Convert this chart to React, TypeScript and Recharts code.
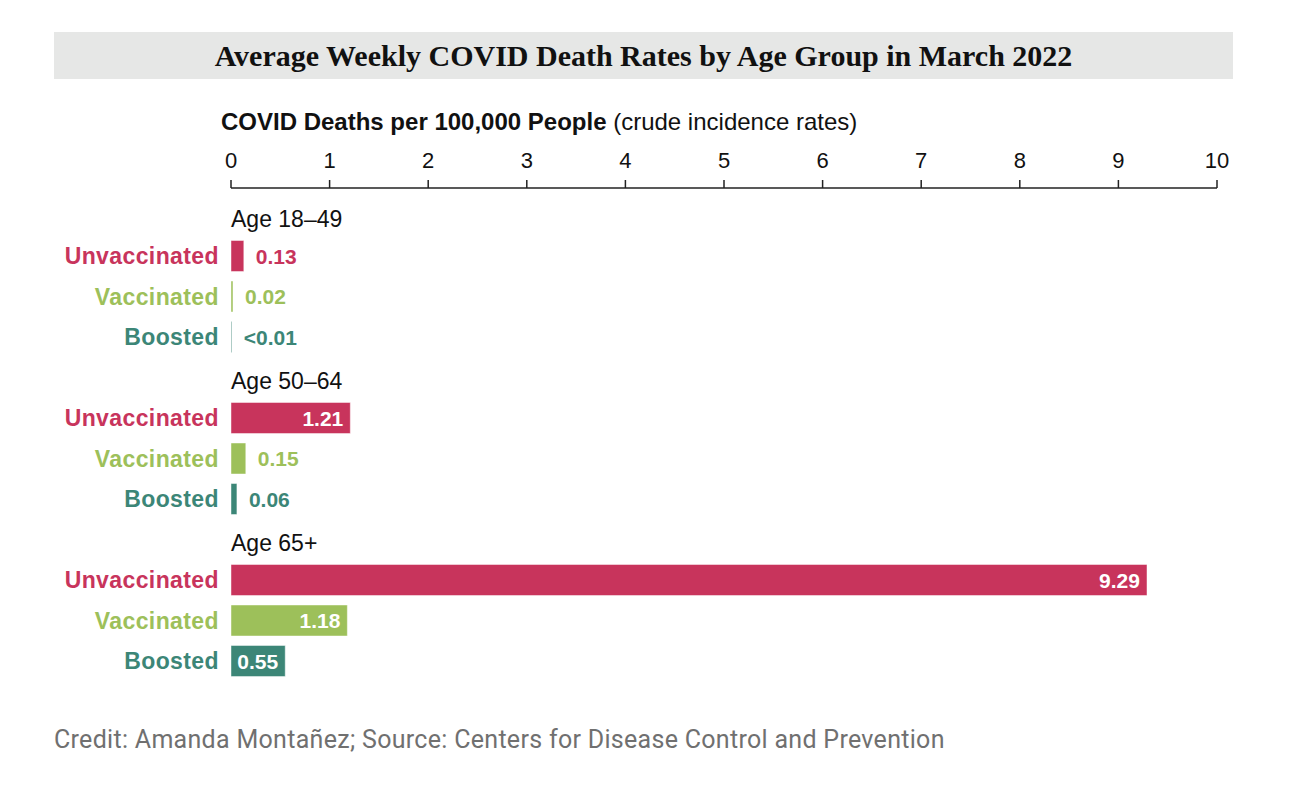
import { BarChart, Bar, XAxis, YAxis, Cell, LabelList } from "recharts"

const ageGroups = ["Age 18–49", "Age 50–64", "Age 65+"]
const statuses = ["Unvaccinated", "Vaccinated", "Boosted"]
const statusColors = ["#c8345c", "#9dc05a", "#3c8677"]

// deaths per 100,000, one list per age group (unvacc, vacc, boosted)
const rates1849 = [0.13, 0.02, 0.008]
const rates5064 = [1.21, 0.15, 0.06]
const rates65 = [9.29, 1.18, 0.55]
const labels1849 = ["0.13", "0.02", "<0.01"]
const labels5064 = ["1.21", "0.15", "0.06"]
const labels65 = ["9.29", "1.18", "0.55"]

const xTicks = [0, 1, 2, 3, 4, 5, 6, 7, 8, 9, 10]

const groupRates = [rates1849, rates5064, rates65]
const groupLabels = [labels1849, labels5064, labels65]

interface Row {
  key: string
  name: string
  header: boolean
  value: number | null
  label: string
  color: string
}

const rows: Row[] = []
ageGroups.forEach((g, gi) => {
  rows.push({ key: `h${gi}`, name: g, header: true, value: null, label: "", color: "#000" })
  statuses.forEach((s, si) => {
    rows.push({
      key: `r${gi}-${si}`,
      name: s,
      header: false,
      value: groupRates[gi][si],
      label: groupLabels[gi][si],
      color: statusColors[si],
    })
  })
})

const SANS = "'Liberation Sans', Arial, Helvetica, sans-serif"
const INSIDE_MIN = 0.4

function RowTick(props: any) {
  const { x, y, payload } = props
  const row = rows.find((r) => r.key === payload.value)
  if (!row) return null
  if (row.header) {
    return (
      <text x={x + 12} y={y + 12} fontFamily={SANS} fontSize={23} fill="#111" textAnchor="start">
        {row.name}
      </text>
    )
  }
  return (
    <text
      x={x}
      y={y}
      dy="0.36em"
      fontFamily={SANS}
      fontSize={23}
      fontWeight="bold"
      letterSpacing={0.4}
      fill={row.color}
      textAnchor="end"
    >
      {row.name}
    </text>
  )
}

function ValueLabel(props: any) {
  const { x, y, width, height, value } = props
  const row = rows.find((r) => r.key === value)
  if (!row || row.header || row.value == null) return null
  const inside = row.value >= INSIDE_MIN
  return (
    <text
      x={inside ? x + width - 7 : x + width + 12}
      y={y + height / 2}
      dy="0.36em"
      fontFamily={SANS}
      fontSize={21}
      fontWeight="bold"
      fill={inside ? "#fff" : row.color}
      textAnchor={inside ? "end" : "start"}
    >
      {row.label}
    </text>
  )
}

export default function App() {
  return (
    <div style={{ position: "relative", width: 1276, height: 786, background: "#fff" }}>
      <div
        style={{
          position: "absolute",
          left: 46,
          top: 24,
          width: 1179,
          height: 47,
          background: "#e6e7e6",
          display: "flex",
          alignItems: "center",
          justifyContent: "center",
          fontFamily: "'Liberation Serif', 'DejaVu Serif', serif",
          fontWeight: "bold",
          fontSize: 30,
          color: "#111",
        }}
      >
        Average Weekly COVID Death Rates by Age Group in March 2022
      </div>
      <div
        style={{
          position: "absolute",
          left: 213,
          top: 100,
          fontFamily: SANS,
          fontSize: 24,
          color: "#111",
          whiteSpace: "nowrap",
        }}
      >
        <b>COVID Deaths per 100,000 People</b> (crude incidence rates)
      </div>
      <div style={{ position: "absolute", left: 0, top: 0 }}>
        <BarChart
          width={1276}
          height={786}
          data={rows}
          layout="vertical"
          margin={{ top: 140, right: 67, bottom: 113, left: 0 }}
          barSize={31}
        >
          <XAxis
            type="number"
            orientation="top"
            domain={[0, 10]}
            ticks={xTicks}
            height={40}
            axisLine={{ stroke: "#222", strokeWidth: 1.5 }}
            tickLine={{ stroke: "#222", strokeWidth: 1.5 }}
            tickSize={8}
            tickMargin={12}
            tick={{ fontFamily: SANS, fontSize: 22, fill: "#111" }}
          />
          <YAxis
            type="category"
            dataKey="key"
            width={223}
            axisLine={false}
            tickLine={false}
            tickSize={0}
            tickMargin={12}
            interval={0}
            padding={{ top: 7, bottom: 0 }}
            tick={<RowTick />}
          />
          <Bar dataKey="value" isAnimationActive={false}>
            {rows.map((r) => (
              <Cell key={r.key} fill={r.color} stroke="rgba(255,255,255,0.45)" strokeWidth={1} />
            ))}
            <LabelList dataKey="key" content={<ValueLabel />} />
          </Bar>
        </BarChart>
      </div>
      <div
        style={{
          position: "absolute",
          left: 46,
          top: 717,
          fontFamily: "Roboto, 'Noto Sans', sans-serif",
          fontSize: 25,
          letterSpacing: 0.3,
          color: "#707070",
          whiteSpace: "nowrap",
        }}
      >
        Credit: Amanda Montañez; Source: Centers for Disease Control and Prevention
      </div>
    </div>
  )
}
